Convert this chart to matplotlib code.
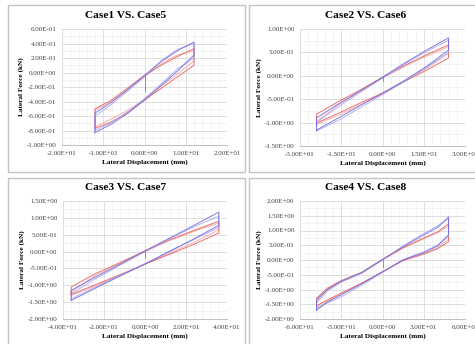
import numpy as np
import matplotlib
matplotlib.use("Agg")
import matplotlib.pyplot as plt
from matplotlib.patches import Rectangle
from matplotlib.ticker import MultipleLocator, FuncFormatter

plt.rcParams['font.family'] = ['Liberation Serif', 'DejaVu Serif']

titles = ["Case1 VS. Case5", "Case2 VS. Case6", "Case3 VS. Case7", "Case4 VS. Case8"]

# Case1 vs Case5
xs1 = [-12, -8, -4, 0, 4, 8, 12]
c1_red_lo = [-0.77, -0.68, -0.55, -0.38, -0.22, -0.06, 0.10]
c1_red_up = [-0.50, -0.38, -0.21, -0.04, 0.10, 0.22, 0.33]
c1_red2_lo = [-0.75, -0.64, -0.52, -0.37, -0.19, -0.02, 0.16]
c1_red2_up = [-0.52, -0.40, -0.24, -0.06, 0.12, 0.24, 0.30]
c1_blue_lo = [-0.83, -0.71, -0.56, -0.38, -0.18, 0.02, 0.24]
c1_blue_up = [-0.56, -0.41, -0.23, -0.04, 0.15, 0.30, 0.42]
c1_blue2_lo = [-0.80, -0.69, -0.54, -0.36, -0.16, 0.05, 0.20]
c1_blue2_up = [-0.60, -0.44, -0.25, -0.06, 0.16, 0.32, 0.40]
c1_start = [-0.25, -0.05]

# Case2 vs Case6
xs2 = [-24, -16, -8, 0, 8, 16, 24]
c2_red_lo = [-1.01, -0.80, -0.58, -0.37, -0.12, 0.12, 0.38]
c2_red_up = [-0.82, -0.55, -0.30, -0.03, 0.22, 0.45, 0.66]
c2_red2_lo = [-1.04, -0.84, -0.62, -0.39, -0.12, 0.16, 0.48]
c2_red2_up = [-0.98, -0.62, -0.33, -0.05, 0.20, 0.42, 0.62]
c2_blue_lo = [-1.16, -0.90, -0.63, -0.37, -0.10, 0.20, 0.55]
c2_blue_up = [-0.90, -0.60, -0.32, -0.03, 0.27, 0.55, 0.81]
c2_blue2_lo = [-1.18, -0.95, -0.68, -0.40, -0.12, 0.18, 0.50]
c2_blue2_up = [-1.00, -0.66, -0.35, -0.05, 0.25, 0.52, 0.76]
c2_start = [-0.12, 0.0]

# Case3 vs Case7
xs3 = [-36, -24, -12, 0, 12, 24, 36]
c3_red_lo = [-1.27, -0.98, -0.68, -0.37, -0.08, 0.22, 0.55]
c3_red_up = [-1.05, -0.65, -0.32, 0.02, 0.35, 0.63, 0.90]
c3_red2_lo = [-1.30, -1.02, -0.70, -0.38, -0.05, 0.28, 0.65]
c3_red2_up = [-1.20, -0.70, -0.35, 0.00, 0.33, 0.60, 0.85]
c3_blue_lo = [-1.45, -1.08, -0.72, -0.37, 0.00, 0.38, 0.78]
c3_blue_up = [-1.15, -0.75, -0.37, 0.02, 0.40, 0.78, 1.17]
c3_blue2_lo = [-1.40, -1.05, -0.70, -0.36, 0.02, 0.36, 0.72]
c3_blue2_up = [-1.25, -0.80, -0.40, 0.00, 0.38, 0.74, 1.05]
c3_start = [-0.15, 0.0]

# Case4 vs Case8
xs4 = [-48, -40, -30, -15, 0, 15, 30, 40, 48]
c4_red_lo = [-1.55, -1.35, -1.12, -0.78, -0.40, -0.02, 0.20, 0.38, 0.62]
c4_red_up = [-1.30, -0.95, -0.70, -0.42, 0.02, 0.42, 0.75, 0.95, 1.22]
c4_red2_lo = [-1.60, -1.40, -1.15, -0.80, -0.40, 0.00, 0.22, 0.42, 0.70]
c4_red2_up = [-1.40, -1.00, -0.72, -0.44, 0.00, 0.40, 0.72, 0.92, 1.15]
c4_blue_lo = [-1.70, -1.42, -1.18, -0.80, -0.40, 0.00, 0.25, 0.48, 0.85]
c4_blue_up = [-1.35, -1.00, -0.72, -0.42, 0.02, 0.45, 0.85, 1.10, 1.46]
c4_blue2_lo = [-1.65, -1.45, -1.25, -0.85, -0.42, 0.02, 0.28, 0.50, 0.80]
c4_blue2_up = [-1.45, -1.05, -0.75, -0.45, 0.00, 0.48, 0.90, 1.15, 1.40]
c4_start = [-0.25, 0.0]

xlims = [(-20, 20, 10), (-30, 30, 15), (-40, 40, 20), (-60, 60, 30)]
ylims = [(-1.0, 0.6, 0.2), (-1.5, 1.0, 0.5), (-2.0, 1.5, 0.5), (-2.0, 2.0, 0.5)]

cases = [
    (xs1, [c1_red2_lo, c1_red2_up], [c1_red_lo, c1_red_up], [c1_blue2_lo, c1_blue2_up], [c1_blue_lo, c1_blue_up], c1_start),
    (xs2, [c2_red2_lo, c2_red2_up], [c2_red_lo, c2_red_up], [c2_blue2_lo, c2_blue2_up], [c2_blue_lo, c2_blue_up], c2_start),
    (xs3, [c3_red2_lo, c3_red2_up], [c3_red_lo, c3_red_up], [c3_blue2_lo, c3_blue2_up], [c3_blue_lo, c3_blue_up], c3_start),
    (xs4, [c4_red2_lo, c4_red2_up], [c4_red_lo, c4_red_up], [c4_blue2_lo, c4_blue2_up], [c4_blue_lo, c4_blue_up], c4_start),
]

W, H = 475, 344
fig = plt.figure(figsize=(W / 100, H / 100), dpi=100)

# panel boxes in pixels: left, top, right, bottom
boxes = [(8, 5, 245, 172), (249, 5, 490, 172), (8, 178, 245, 360), (249, 178, 490, 360)]
axes_px = [(62, 29, 227, 145), (300, 29, 465, 146), (63, 201, 227, 319), (300, 201, 465, 319)]
title_px = [(126, 16), (366, 16), (126, 188), (366, 188)]


def sci(v, pos):
    if abs(v) < 1e-9:
        v = 0.0
    return f"{v:.2E}"


def loop(xs, lo, up):
    x = list(xs) + list(xs[::-1]) + [xs[0]]
    y = list(lo) + list(up[::-1]) + [lo[0]]
    return x, y


for i in range(4):
    bx0, by0, bx1, by1 = boxes[i]
    fig.patches.append(Rectangle((bx0 / W, 1 - by1 / H), (bx1 - bx0) / W, (by1 - by0) / H,
                                 transform=fig.transFigure, fill=False,
                                 edgecolor='#c4c4c4', linewidth=1.0))
    x0, y0, x1, y1 = axes_px[i]
    ax = fig.add_axes([x0 / W, 1 - y1 / H, (x1 - x0) / W, (y1 - y0) / H])

    xs, red2, red, blue2, blue, start = cases[i]
    for pair, col in [(red2, '#f3a3a3'), (red, '#ea5a55'),
                      (blue2, '#a7a9f2'), (blue, '#6f68de')]:
        lx, ly = loop(xs, pair[0], pair[1])
        ax.plot(lx, ly, color=col, lw=0.7, alpha=0.85, solid_joinstyle='round')
    ax.plot([0, 0], start, color='#9a78d8', lw=0.7)

    xmn, xmx, xst = xlims[i]
    ymn, ymx, yst = ylims[i]
    ax.set_xlim(xmn, xmx)
    ax.set_ylim(ymn, ymx)
    ax.xaxis.set_major_locator(MultipleLocator(xst))
    ax.xaxis.set_minor_locator(MultipleLocator(xst / 5))
    ax.yaxis.set_major_locator(MultipleLocator(yst))
    ax.yaxis.set_minor_locator(MultipleLocator(yst / 2))
    ax.xaxis.set_major_formatter(FuncFormatter(sci))
    ax.yaxis.set_major_formatter(FuncFormatter(sci))
    ax.grid(which='major', color='#d9d9d9', lw=0.6)
    ax.grid(which='minor', color='#efefef', lw=0.5)
    ax.set_axisbelow(True)
    for s in ['top', 'right', 'left']:
        ax.spines[s].set_visible(False)
    ax.spines['bottom'].set_color('#bfbfbf')
    ax.spines['bottom'].set_linewidth(0.7)
    ax.tick_params(which='both', length=0, labelsize=5, colors='#404040')
    ax.tick_params(axis='x', pad=4.5)
    ax.tick_params(axis='y', pad=4)

    ax.set_xlabel('Lateral Displacement (mm)', fontsize=5.2, fontweight='bold', labelpad=2)
    ax.set_ylabel('Lateral Force (kN)', fontsize=5.2, fontweight='bold', labelpad=2)

    tx, ty = title_px[i]
    fig.text(tx / W, 1 - ty / H, titles[i], ha='center', va='center',
             fontsize=8.2, fontweight='bold')

fig.savefig('out.png', dpi=100)
